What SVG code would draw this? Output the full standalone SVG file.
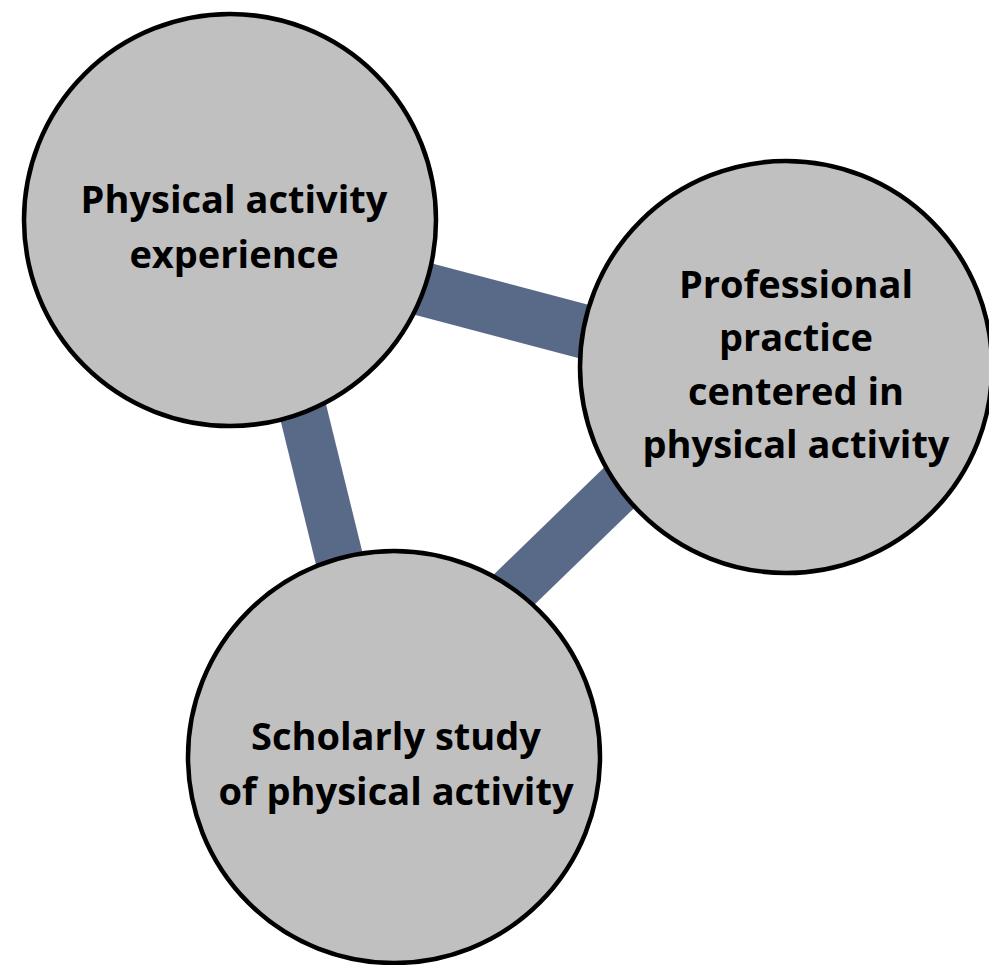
<svg xmlns="http://www.w3.org/2000/svg" width="989" height="965" viewBox="0 0 989 965">
<style>
.bg{fill:#ffffff}
.bar{stroke:#596A89;fill:none;stroke-linecap:butt}
.node{fill:#C0C0C0;stroke:#000000;stroke-width:4.5}
.lbl{font-family:"Open Sans","DejaVu Sans",sans-serif;font-weight:bold;fill:#000000;text-anchor:middle;font-size:38px}
</style>
<rect class="bg" x="0" y="0" width="989" height="965"/>
<g id="connectors">
<line class="bar" x1="230" y1="238" x2="786" y2="385" stroke-width="54"/>
<line class="bar" x1="256" y1="220" x2="388" y2="757" stroke-width="48"/>
<line class="bar" x1="394" y1="706" x2="786" y2="326" stroke-width="50"/>
</g>
<g id="node-experience">
<circle class="node" cx="230" cy="220" r="206"/>
<text class="lbl" x="234" y="213">Physical activity</text>
<text class="lbl" x="234" y="268">experience</text>
</g>
<g id="node-professional">
<circle class="node" cx="786" cy="367" r="206"/>
<text class="lbl" x="796" y="298">Professional</text>
<text class="lbl" x="796" y="351">practice</text>
<text class="lbl" x="796" y="405">centered in</text>
<text class="lbl" x="796" y="458">physical activity</text>
</g>
<g id="node-scholarly">
<circle class="node" cx="394" cy="757" r="206"/>
<text class="lbl" x="396" y="750">Scholarly study</text>
<text class="lbl" x="396" y="805">of physical activity</text>
</g>
</svg>
